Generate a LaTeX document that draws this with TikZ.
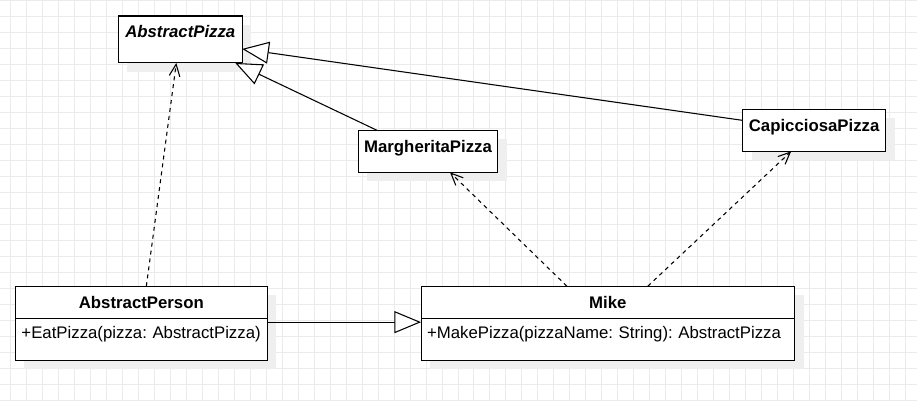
\documentclass[tikz,border=0pt]{standalone}
\usepackage{fontspec}
\setmainfont{Liberation Sans}
\usetikzlibrary{arrows.meta, positioning, shadows}

\definecolor{gridgrey}{HTML}{EBEBEB}
\definecolor{shadowgrey}{HTML}{EFEFEF}
\frenchspacing

\begin{document}
\begin{tikzpicture}[
    x=0.75pt, y=-0.75pt,
    node distance=0pt,
    every node/.style={font=\fontsize{12.6pt}{15pt}\selectfont},
    box/.style={rectangle, draw, line width=0.8pt, fill=white, outer sep=0pt, inner ysep=0pt,
                drop shadow={shadow xshift=6.75pt, shadow yshift=-6.75pt, fill=shadowgrey, opacity=1}},
    classbox/.style={box, minimum height=31.5pt, text height=16.8pt, text depth=14.7pt,
                font=\fontsize{12.6pt}{15pt}\selectfont\bfseries},
    classhead/.style={box, minimum height=24pt, font=\fontsize{12.6pt}{15pt}\selectfont\bfseries},
    classbody/.style={box, align=left, inner xsep=4.5pt, inner ysep=3pt, text height=12pt, text depth=13.5pt},
    generalize/.style={-{Triangle[length=20pt, width=16.5pt, fill=white]}, line width=0.8pt},
    depends/.style={-{Straight Barb[length=9pt, width=8pt]}, line width=0.8pt, dash pattern=on 3pt off 3pt},
    gridline/.style={draw=gridgrey, line width=0.75pt}
]

% Background grid
\fill[white] (0,0) rectangle (917,400);
\foreach \gx in {10,26,...,906} \draw[gridline] (\gx,0) -- (\gx,400);
\foreach \gy in {0,16,...,400} \draw[gridline] (0,\gy) -- (917,\gy);
\useasboundingbox (0,0) rectangle (917,400);

% Pizza classes
\node[box, anchor=north, minimum width=93pt, text height=16pt, text depth=19.25pt,
      font=\fontsize{12.6pt}{15pt}\selectfont\bfseries\itshape] (apizza) at (180,15.5) {AbstractPizza};
\node[classbox, minimum width=105pt] (marg) at (428,151) {MargheritaPizza};
\node[classbox, minimum width=107.25pt] (capi) at (814.5,130) {CapicciosaPizza};

% Person classes
\node[classhead, minimum width=189pt] (person) at (141,302) {AbstractPerson};
\node[classbody, text width=180pt, below=of person] (personops) {+EatPizza(pizza: AbstractPizza)};
\node[classhead, minimum width=280.5pt] (mike) at (608,302) {Mike};
\node[classbody, text width=271.5pt, below=of mike] (mikeops) {+MakePizza(pizzaName: String): AbstractPizza};

% Generalizations
\draw[generalize] ([xshift=14.25pt]marg.north west) -- ([xshift=-5.25pt]apizza.south east);
\draw[generalize] ([yshift=7.5pt]capi.west) -- ([yshift=-7.1pt]apizza.east);
\draw[generalize] ([yshift=12.75pt]personops.east) -- ([yshift=12.75pt]mikeops.west);

% Dependencies
\draw[depends] ([xshift=3.75pt]person.north) -- ([xshift=-3pt]apizza.south);
\draw[depends] ([xshift=-30.75pt]mike.north) -- ([xshift=16.5pt]marg.south);
\draw[depends] ([xshift=30pt]mike.north) -- ([xshift=-17.25pt]capi.south);

\end{tikzpicture}
\end{document}
